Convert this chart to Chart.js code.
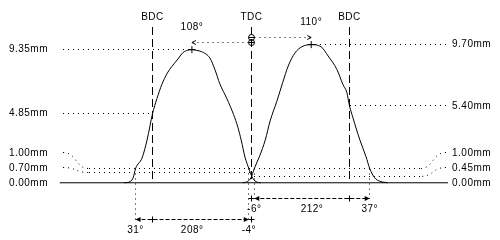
<!DOCTYPE html>
<html>
<head>
<meta charset="utf-8">
<title>Cam timing</title>
<script src="https://cdn.jsdelivr.net/npm/chart.js@4.4.1/dist/chart.umd.min.js"></script>
<style>
  html, body { margin: 0; padding: 0; background: #fff; }
  #wrap { width: 500px; height: 240px; position: relative; }
</style>
</head>
<body>
<div id="wrap"><canvas id="camChart"></canvas></div>
<script>
// crank angle in degrees (0 = TDC, negative = before TDC), valve lift in mm
const exhaustAngle = [-232, -221, -215, -211, -199, -190, -180, -172, -163, -153, -145, -135, -124, -116, -108, -100, -90, -75, -66, -57, -44, -32, -24, -18, -11, -4, 2, 9, 18];
const exhaustLift  = [0, 0.08, 0.4, 1.0, 1.75, 3.0, 4.85, 5.9, 6.9, 7.7, 8.15, 8.62, 9.15, 9.3, 9.35, 9.3, 9.2, 8.75, 7.95, 6.95, 5.9, 4.8, 3.9, 3.0, 1.8, 1.0, 0.4, 0.08, 0];
const intakeAngle  = [-15, -6, 0, 6, 16, 26, 35, 47, 58, 68, 80, 93, 110, 128, 141, 157, 168, 175, 180, 186, 199, 210, 217, 226, 236, 250];
const intakeLift   = [0, 0.1, 0.35, 1.0, 1.9, 3.0, 4.35, 5.7, 7.05, 8.2, 9.1, 9.55, 9.70, 9.55, 8.9, 7.95, 6.9, 6.35, 5.40, 4.6, 3.0, 1.85, 1.0, 0.35, 0.1, 0];

const deadCentreAngle = [-180, 0, 180];
const deadCentreLabel = ['BDC', 'TDC', 'BDC'];

// lobe centres
const peakAngle = [-108, 110];
const peakLift  = [9.35, 9.70];
const peakLabel = ['108°', '110°'];

// timing is measured at 1.00mm lift
const checkLift = 1.00;
const exhaustEvents = [-211, -4];   // opens, closes
const intakeEvents  = [6, 217];
const exhaustLabels = ['31°', '208°', '-4°'];
const intakeLabels  = ['-6°', '212°', '37°'];

// lift ticks, top to bottom
const leftLiftTicks   = [9.35, 4.85, 1.00, 0.70, 0.00];
const leftLiftLabels  = ['9.35mm', '4.85mm', '1.00mm', '0.70mm', '0.00mm'];
const rightLiftTicks  = [9.70, 5.40, 1.00, 0.45, 0.00];
const rightLiftLabels = ['9.70mm', '5.40mm', '1.00mm', '0.45mm', '0.00mm'];

const angleRange = [-350, 360];
const liftRange  = [-3.667, 12.482];

const toPoints = (xs, ys) => xs.map((a, i) => ({ x: a, y: ys[i] }));

const camAnnotations = {
    id: 'camAnnotations',
    afterDatasetsDraw(chart) {
        const { ctx, chartArea: area, scales: { x, y } } = chart;
        const px = v => x.getPixelForValue(v);
        const py = v => y.getPixelForValue(v);
        const snap = p => Math.floor(p) + 0.5;

        const DOT = [1, 4], DASH = [8, 4], SHORT = [4, 2];

        const line = (pts, dash) => {
            ctx.save();
            ctx.setLineDash(dash || []);
            ctx.beginPath();
            pts.forEach(([a, b], i) => i ? ctx.lineTo(a, b) : ctx.moveTo(a, b));
            ctx.stroke();
            ctx.restore();
        };
        const text = (s, a, b, align) => {
            ctx.textAlign = align || 'center';
            ctx.fillText(s, a, b);
        };
        const cross = (a, b, r) => {
            line([[a - r, b], [a + r, b]]);
            line([[a, b - r], [a, b + r]]);
        };
        const arrowHead = (tip, b, dir) => {
            ctx.beginPath();
            ctx.moveTo(tip, b);
            ctx.lineTo(tip - dir * 5, b - 2.5);
            ctx.lineTo(tip - dir * 5, b + 2.5);
            ctx.closePath();
            ctx.fill();
        };

        ctx.save();
        ctx.strokeStyle = '#000';
        ctx.fillStyle = '#000';
        ctx.lineWidth = 1;
        ctx.font = '10px "Liberation Sans", Arial, sans-serif';
        ctx.letterSpacing = '0.5px';
        ctx.textBaseline = 'middle';

        const base = py(0);
        const leftEdge = area.left + 3.5;
        const rightEdge = area.right - 2;
        const leaderLen = 26;

        // BDC / TDC markers
        const dcTop = area.top + 22;
        deadCentreAngle.forEach((a, i) => {
            const xx = snap(px(a));
            line([[xx, dcTop], [xx, base - 2]], DASH);
            text(deadCentreLabel[i], xx, area.top + 12);
        });

        // stack the small lift labels so they don't overlap
        const stack = vals => {
            const out = [];
            let prev = Infinity;
            for (let i = vals.length - 1; i >= 0; i--) {
                const yy = Math.min(py(vals[i]), prev - 15);
                out[i] = yy;
                prev = yy;
            }
            return out;
        };
        const leftY = stack(leftLiftTicks);
        const rightY = stack(rightLiftTicks);
        leftLiftLabels.forEach((s, i) => text(s, area.left - 11.5, leftY[i], 'right'));
        rightLiftLabels.forEach((s, i) => text(s, area.right + 4, rightY[i], 'left'));

        // dotted level line, with a leader when the label was moved
        const level = (v, labelY, side, innerX) => {
            const ly = snap(py(v));
            let outer = side < 0 ? leftEdge : rightEdge;
            if (Math.abs(labelY - py(v)) > 1) {
                const end = outer - side * leaderLen;
                const lab = snap(labelY);
                ctx.save();
                ctx.setLineDash(DOT);
                ctx.beginPath();
                ctx.moveTo(outer, lab);
                ctx.bezierCurveTo(outer - side * 14, lab, outer - side * 12, ly, end, ly);
                ctx.stroke();
                ctx.restore();
                outer = end;
            }
            if (innerX !== null) line([[outer, ly], [innerX, ly]], DOT);
        };
        const rightLeaderEnd = rightEdge - leaderLen;
        level(leftLiftTicks[0], leftY[0], -1, px(peakAngle[0]));
        level(leftLiftTicks[1], leftY[1], -1, px(deadCentreAngle[0]));
        level(leftLiftTicks[2], leftY[2], -1, rightLeaderEnd);
        level(leftLiftTicks[3], leftY[3], -1, px(0));
        level(rightLiftTicks[0], rightY[0], 1, px(peakAngle[1]));
        level(rightLiftTicks[1], rightY[1], 1, px(deadCentreAngle[2]));
        level(rightLiftTicks[2], rightY[2], 1, null);
        level(rightLiftTicks[3], rightY[3], 1, px(0));

        // lobe centre arrows from TDC
        peakAngle.forEach((a, i) => {
            const rowY = snap(py(peakLift[i]) - 7.5);
            const x0 = snap(px(0));
            const x1 = px(a);
            const dir = Math.sign(a);
            line([[x0 + dir * 3, rowY], [x1, rowY]], DOT);
            line([[x1 - dir * 4, rowY - 2], [x1, rowY], [x1 - dir * 4, rowY + 2]]);
            ctx.beginPath();
            ctx.arc(x0, rowY, 3, 0, Math.PI * 2);
            ctx.stroke();
            line([[x0 - 3, rowY], [x0 + 3, rowY]]);
            text(peakLabel[i], px(a), rowY - 15);
        });

        // opening / closing rows
        const chk = py(checkLift);
        const timingRow = (events, rowY, labels) => {
            const a0 = px(events[0]), a1 = px(events[1]);
            events.forEach(e => line([[snap(px(e)), chk], [snap(px(e)), rowY]], DOT));
            line([[a0, rowY], [a1, rowY]], SHORT);
            deadCentreAngle
                .filter(d => d > events[0] - 10 && d < events[1] + 10)
                .forEach(d => cross(snap(px(d)), rowY, 3));
            arrowHead(a0, rowY, -1);
            arrowHead(a1, rowY, 1);
            text(labels[0], a0, rowY + 11);
            text(labels[1], (a0 + a1) / 2, rowY + 11);
            text(labels[2], a1, rowY + 11);
        };
        timingRow(intakeEvents, snap(base + 16), intakeLabels);
        timingRow(exhaustEvents, snap(base + 37), exhaustLabels);

        ctx.restore();
    }
};

const ctx = document.getElementById('camChart');
new Chart(ctx, {
    type: 'line',
    data: {
        datasets: [
            {
                label: 'Exhaust',
                data: toPoints(exhaustAngle, exhaustLift),
                borderColor: '#000',
                borderWidth: 1,
                pointRadius: 0,
                cubicInterpolationMode: 'monotone'
            },
            {
                label: 'Intake',
                data: toPoints(intakeAngle, intakeLift),
                borderColor: '#000',
                borderWidth: 1,
                pointRadius: 0,
                cubicInterpolationMode: 'monotone'
            },
            {
                label: 'Base circle',
                data: toPoints(angleRange, [0, 0]),
                borderColor: '#000',
                borderWidth: 1,
                pointRadius: 0
            },
            {
                label: 'Peak',
                data: toPoints(peakAngle, peakLift),
                showLine: false,
                pointStyle: 'cross',
                pointRadius: 3.5,
                borderColor: '#000',
                borderWidth: 1
            }
        ]
    },
    options: {
        responsive: true,
        maintainAspectRatio: false,
        animation: false,
        events: [],
        layout: { padding: { left: 59.5, right: 52, top: 0, bottom: 0 } },
        plugins: {
            legend: { display: false },
            tooltip: { enabled: false }
        },
        scales: {
            x: { type: 'linear', min: angleRange[0], max: angleRange[1], display: false },
            y: { min: liftRange[0], max: liftRange[1], display: false }
        }
    },
    plugins: [camAnnotations]
});
</script>
</body>
</html>
